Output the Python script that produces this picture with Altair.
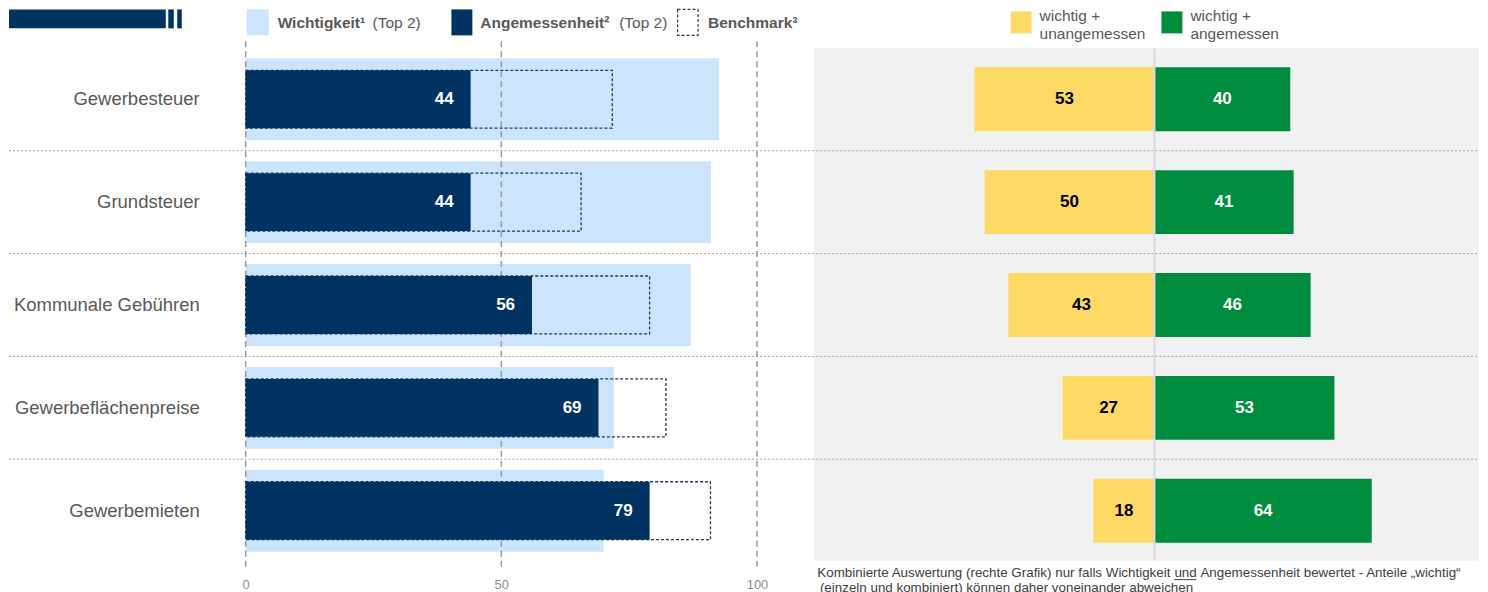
import altair as alt
import pandas as pd

# ---- data ----
categories = ["Gewerbesteuer", "Grundsteuer", "Kommunale Gebühren",
              "Gewerbeflächenpreise", "Gewerbemieten"]
wichtigkeit = [92.6, 91.0, 87.0, 72.0, 70.0]        # Top 2, light blue
angemessenheit = [44, 44, 56, 69, 79]               # Top 2, navy
benchmark = [71.7, 65.6, 79.0, 82.2, 90.9]          # dashed outline
wichtig_unangemessen = [53, 50, 43, 27, 18]         # yellow
wichtig_angemessen = [40, 41, 46, 53, 64]           # green
tick_values = [0, 50, 100]

FONT = "Liberation Sans"
NAVY = "#003262"
LIGHT = "#CCE4FC"
YELLOW = "#FFD966"
GREEN = "#008C3E"
GREY_TXT = "#595959"

W, H = 1472, 523

df = pd.DataFrame({
    "cat": categories,
    "w": wichtigkeit,
    "a": angemessenheit,
    "b": benchmark,
    "u": wichtig_unangemessen,
    "g": wichtig_angemessen,
})
df["u_neg"] = -df["u"]
df["u_mid"] = -df["u"] / 2
df["g_mid"] = df["g"] / 2
df["zero"] = 0

sep_df = df.iloc[:-1]
grid_df = pd.DataFrame({"t": tick_values})
zero_df = pd.DataFrame({"zero": [0]})

yscale = alt.Scale(paddingInner=0, paddingOuter=0.0388, align=0.31)
Y = alt.Y("cat:N", sort=categories, scale=yscale, axis=None)

xl_scale = alt.Scale(domain=[-46.29, 241.21], nice=False, zero=False)
xl_axis = alt.Axis(values=tick_values, grid=False, domain=False, ticks=False,
                   labelColor="#8C8C8C", labelFontSize=13, labelFont=FONT,
                   labelPadding=11, title=None, format="d")
xr_scale = alt.Scale(domain=[-337.35, 95.59], nice=False, zero=False)

base = alt.Chart(df)

# ---- background / decoration ----
bg = alt.Chart(zero_df).mark_rect(color="#F1F1F1").encode(
    x=alt.value(806), x2=alt.value(W), y=alt.value(3), y2=alt.value(516))

seps = alt.Chart(sep_df).mark_rule(color="#A6A6A6", strokeDash=[2, 2], strokeWidth=1).encode(
    y=alt.Y("cat:N", sort=categories, scale=yscale, axis=None, bandPosition=1),
    x=alt.value(0), x2=alt.value(W))

cat_labels = base.mark_text(align="right", baseline="middle", font=FONT,
                            fontSize=18.5, color=GREY_TXT).encode(
    y=Y, x=alt.value(191), text="cat:N")

# ---- left panel ----
XL = lambda f: alt.X(f, scale=xl_scale, axis=xl_axis)
light = base.mark_bar(color=LIGHT, size=82).encode(x=XL("zero:Q"), x2="w:Q", y=Y)
grid = alt.Chart(grid_df).mark_rule(color="#9A9A9A", strokeDash=[6, 4], strokeWidth=1.5).encode(
    x=XL("t:Q"), y=alt.value(-4), y2=alt.value(522))
bench = base.mark_bar(fillOpacity=0, stroke="#1F3864", strokeDash=[3, 2],
                      strokeWidth=1.3, size=58).encode(x=XL("zero:Q"), x2="b:Q", y=Y)
dark = base.mark_bar(color=NAVY, size=58).encode(x=XL("zero:Q"), x2="a:Q", y=Y)
dark_txt = base.mark_text(align="right", baseline="middle", dx=-17, font=FONT,
                          fontSize=17, fontWeight="bold", color="white").encode(
    x=XL("a:Q"), y=Y, text="a:Q")
left = alt.layer(light, grid, bench, dark, dark_txt)

# ---- right panel ----
XR = lambda f: alt.X(f, scale=xr_scale, axis=None)
yel = base.mark_bar(color=YELLOW, size=64).encode(x=XR("u_neg:Q"), x2="zero:Q", y=Y)
grn = base.mark_bar(color=GREEN, size=64).encode(x=XR("zero:Q"), x2="g:Q", y=Y)
yel_txt = base.mark_text(align="center", baseline="middle", font=FONT, fontSize=17,
                         fontWeight="bold", color="black").encode(
    x=XR("u_mid:Q"), y=Y, text="u:Q")
grn_txt = base.mark_text(align="center", baseline="middle", font=FONT, fontSize=17,
                         fontWeight="bold", color="white").encode(
    x=XR("g_mid:Q"), y=Y, text="g:Q")
center = alt.Chart(zero_df).mark_rule(color="#D3DAE4", strokeWidth=2).encode(
    x=XR("zero:Q"), y=alt.value(3), y2=alt.value(516))
right = alt.layer(yel, grn, center, yel_txt, grn_txt)

# ---- legend & header decoration (pixel positioned) ----
def box(x1, x2, y1, y2, **kw):
    return alt.Chart(zero_df).mark_rect(**kw).encode(
        x=alt.value(x1), x2=alt.value(x2), y=alt.value(y1), y2=alt.value(y2))

def txt(s, x, y, bold=False, size=15.5, color=GREY_TXT, align="left"):
    return alt.Chart(zero_df).mark_text(
        text=s, align=align, baseline="middle", font=FONT, fontSize=size,
        fontWeight="bold" if bold else "normal", color=color).encode(
        x=alt.value(x), y=alt.value(y))

FN = 13.4
deco = [
    box(0, 157, -36, -17, color=NAVY),
    box(159.5, 165, -36, -17, color=NAVY),
    box(168.5, 173, -36, -17, color=NAVY),
    box(238, 260, -36, -10, color=LIGHT),
    txt("Wichtigkeit¹", 269, -22, bold=True),
    txt("(Top 2)", 364, -22),
    box(443, 464, -36, -10, color=NAVY),
    txt("Angemessenheit²", 472, -22, bold=True),
    txt("(Top 2)", 611, -22),
    box(669.5, 690, -36, -10, fill="white", stroke="#1F3864", strokeDash=[3, 2], strokeWidth=1.2),
    txt("Benchmark³", 700, -22, bold=True),
    box(1003, 1024, -34, -12, color=YELLOW),
    txt("wichtig +", 1032, -29),
    txt("unangemessen", 1032, -11),
    box(1154, 1175, -34, -12, color=GREEN),
    txt("wichtig +", 1183, -29),
    txt("angemessen", 1183, -11),
    txt("Kombinierte Auswertung (rechte Grafik) nur falls Wichtigkeit",
        1163, 528, size=FN, color="#404040", align="right"),
    txt("und", 1167, 528, size=FN, color="#404040"),
    box(1167, 1189, 534.5, 535.5, color="#404040"),
    txt("Angemessenheit bewertet - Anteile „wichtig“",
        1193, 528, size=FN, color="#404040"),
    txt("(einzeln und kombiniert) können daher voneinander abweichen",
        812, 543, size=FN, color="#404040"),
]

chart = alt.layer(bg, seps, cat_labels, left, right, *deco).resolve_scale(
    x="independent"
).properties(
    width=W, height=H, padding=0
).configure_view(stroke=None)

chart.save("out.html", embed_options={"renderer": "svg", "actions": False})
